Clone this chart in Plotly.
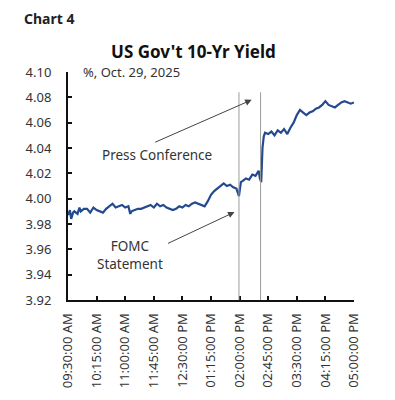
import plotly.graph_objects as go

# ---- data ----
times = ["09:30","09:33","09:35","09:38","09:40","09:45","09:48","09:50","09:55","10:00",
         "10:05","10:10","10:15","10:20","10:25","10:30","10:35","10:40","10:45","10:50",
         "10:55","11:00","11:05","11:08","11:10","11:15","11:20","11:25","11:30","11:35",
         "11:40","11:45","11:50","11:55","12:00","12:05","12:10","12:15","12:20","12:25",
         "12:30","12:35","12:40","12:45","12:50","12:55","13:00","13:05","13:10","13:15",
         "13:20","13:25","13:30","13:35","13:40","13:45","13:50","13:55","13:59","14:02",
         "14:05","14:10","14:15","14:20","14:25","14:30","14:32","14:34","14:36","14:38",
         "14:40","14:45","14:50","14:55","15:00","15:05","15:10","15:15","15:20","15:25",
         "15:30","15:35","15:40","15:45","15:50","15:55","16:00","16:05","16:10","16:15",
         "16:20","16:25","16:30","16:35","16:40","16:45","16:50","16:55","17:00"]
yields = [3.987,3.991,3.984,3.989,3.990,3.988,3.993,3.990,3.992,3.992,
          3.989,3.993,3.991,3.990,3.989,3.992,3.994,3.996,3.993,3.994,
          3.995,3.993,3.994,3.988,3.990,3.991,3.992,3.992,3.993,3.994,
          3.995,3.993,3.996,3.994,3.995,3.993,3.992,3.991,3.992,3.994,
          3.993,3.995,3.994,3.996,3.997,3.996,3.995,3.994,3.998,4.003,
          4.006,4.008,4.010,4.012,4.010,4.011,4.009,4.008,4.002,4.013,
          4.014,4.016,4.015,4.019,4.018,4.022,4.016,4.013,4.040,4.049,
          4.052,4.051,4.053,4.050,4.054,4.052,4.055,4.051,4.056,4.060,
          4.066,4.070,4.068,4.066,4.068,4.069,4.071,4.072,4.074,4.077,
          4.074,4.073,4.072,4.074,4.076,4.077,4.076,4.075,4.076]
tick_times = ["09:30","10:15","11:00","11:45","12:30","13:15","14:00","14:45","15:30","16:15","17:00"]
tick_labels = ["09:30:00 AM","10:15:00 AM","11:00:00 AM","11:45:00 AM","12:30:00 PM",
               "01:15:00 PM","02:00:00 PM","02:45:00 PM","03:30:00 PM","04:15:00 PM","05:00:00 PM"]
y_ticks = [3.92,3.94,3.96,3.98,4.00,4.02,4.04,4.06,4.08,4.10]
event_times = ["13:59","14:33"]

day = "2025-10-29 "
xs = [day + t for t in times]

FONT = "Noto Sans"
fig = go.Figure()
fig.add_trace(go.Scatter(x=xs, y=yields, mode="lines",
                         line=dict(color="#23498f", width=2.2), hoverinfo="skip"))

for t in event_times:
    fig.add_shape(type="line", x0=day + t, x1=day + t, y0=3.92, y1=4.084,
                  xref="x", yref="y", line=dict(color="#9a9a9a", width=1))

fig.add_annotation(x=day + "14:19", y=4.078, ax=-98, ay=43, showarrow=True,
                   arrowhead=2, arrowsize=1.3, arrowwidth=1, arrowcolor="#444", text="")
fig.add_annotation(x=day + "13:52", y=3.9894, ax=-68, ay=32, showarrow=True,
                   arrowhead=2, arrowsize=1.3, arrowwidth=1, arrowcolor="#444", text="")
fig.add_annotation(x=day + "11:50", y=4.0343, text="Press Conference", showarrow=False,
                   font=dict(family=FONT, size=13.5, color="#333"))
fig.add_annotation(x=day + "11:07", y=3.9552, text="FOMC<br>Statement", showarrow=False,
                   font=dict(family=FONT, size=13.5, color="#333"))

fig.add_annotation(xref="paper", yref="paper", x=-0.161, y=1.235, xanchor="left",
                   yanchor="middle", text="<b>Chart 4</b>", showarrow=False,
                   font=dict(family=FONT, size=14, color="#222"))
fig.add_annotation(x=day + "09:51", y=4.10, xanchor="left", yanchor="middle",
                   text="%, Oct. 29, 2025", showarrow=False,
                   font=dict(family=FONT, size=13, color="#333"))

fig.update_layout(
    width=387, height=392,
    margin=dict(l=60, r=41, t=64, b=98),
    paper_bgcolor="white", plot_bgcolor="white",
    showlegend=False,
    title=dict(text="<b>US Gov't 10-Yr Yield</b>", x=0.479, xanchor="center",
               y=0.888, yanchor="middle",
               font=dict(family=FONT, size=17, color="#111")),
    xaxis=dict(range=[day + "09:30", day + "17:00"], tickvals=[day + t for t in tick_times],
               ticktext=tick_labels, tickangle=-90, showgrid=False, zeroline=False,
               showline=True, linecolor="#111", linewidth=2,
               ticks="inside", ticklen=4, tickwidth=2, tickcolor="#111",
               ticklabelstandoff=6,
               tickfont=dict(family=FONT, size=13, color="#333")),
    yaxis=dict(range=[3.92, 4.10], tickvals=y_ticks, tickformat=".2f",
               showgrid=False, zeroline=False, showline=True, linecolor="#111", linewidth=2,
               ticks="inside", ticklen=4, tickwidth=2, tickcolor="#111",
               ticklabelstandoff=12,
               tickfont=dict(family=FONT, size=13, color="#333")),
)
fig.write_html("out.html")
